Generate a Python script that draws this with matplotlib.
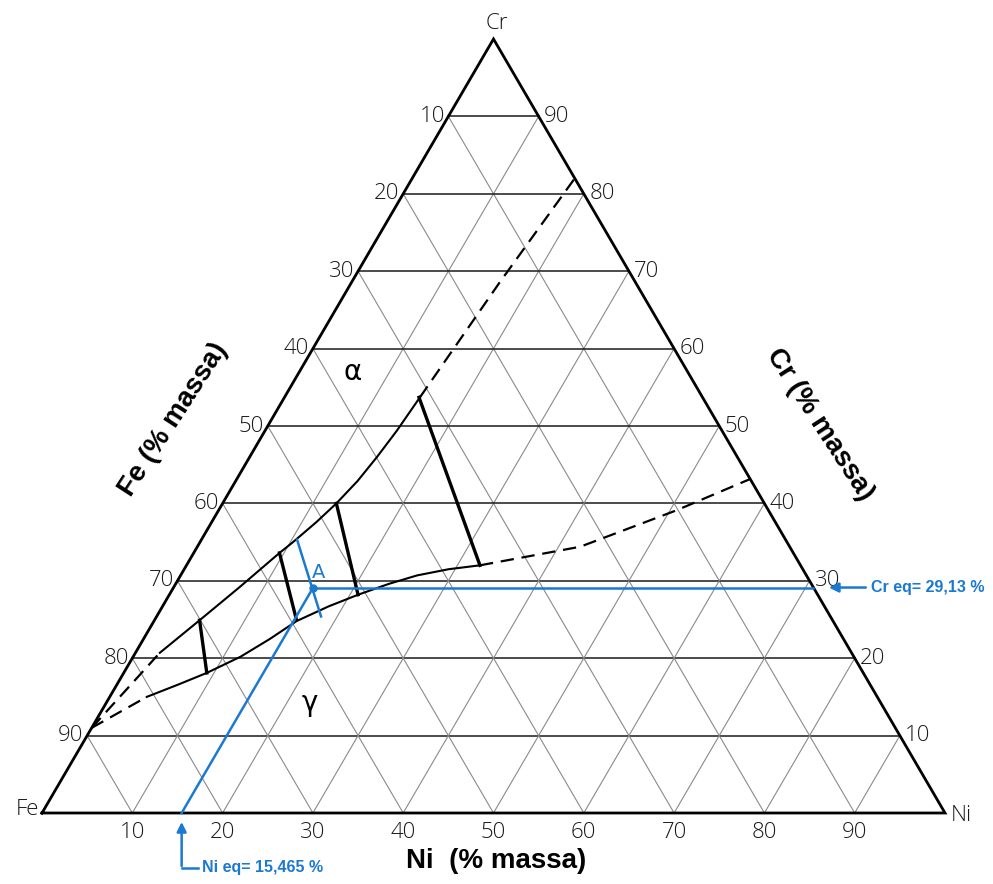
import numpy as np
import matplotlib
matplotlib.use("Agg")
import matplotlib.pyplot as plt

# Ternary Fe-Cr-Ni section; compositions in % (Ni, Cr), Fe = 100 - Ni - Cr
grid_values = [10, 20, 30, 40, 50, 60, 70, 80, 90]

# alpha / (alpha+gamma) boundary
sup_dash1_ni = [0.0, 2.7]
sup_dash1_cr = [11.0, 20.7]
sup_ni = [2.7, 5.0, 7.3, 9.5, 10.3, 11.6, 12.6, 13.5, 14.1, 14.6, 15.0]
sup_cr = [20.7, 24.9, 29.2, 33.6, 35.0, 37.6, 40.0, 42.9, 46.0, 49.4, 53.7]
sup_dash2_ni = [15.0, 16.4, 18.0]
sup_dash2_cr = [53.7, 68.5, 82.0]

# gamma / (alpha+gamma) boundary
inf_dash1_ni = [0.0, 4.1]
inf_dash1_cr = [11.0, 15.0]
inf_ni = [4.1, 6.8, 9.2, 11.9, 14.0, 15.8, 18.4, 20.9, 23.6, 26.2, 29.3, 32.5]
inf_cr = [15.0, 16.6, 18.1, 20.2, 22.5, 24.8, 26.7, 28.2, 29.6, 30.7, 31.5, 32.0]
inf_dash2_ni = [32.5, 42.4, 50.7, 56.85]
inf_dash2_cr = [32.0, 34.4, 39.1, 43.15]

# tie-lines (top point, bottom point)
tie_ni = [(5.0, 9.2), (9.5, 15.6), (12.6, 20.9), (14.9, 32.5)]
tie_cr = [(24.9, 18.1), (33.6, 25.1), (40.0, 28.2), (53.7, 32.0)]

# point A from the equivalents
ni_eq = 15.465
cr_eq = 29.13
tie_a_ni = (10.6, 18.2)
tie_a_cr = (35.3, 25.4)

BLUE = "#1b79d2"


def tern(ni, cr):
    ni = np.asarray(ni, float) / 100
    cr = np.asarray(cr, float) / 100
    return ni + cr / 2, cr


fig = plt.figure(figsize=(9.93, 8.84), dpi=100)
ax = fig.add_axes([0, 0, 1, 1])
ax.set_xlim(-42 / 903, 951 / 903)
ax.set_ylim((813 - 884) / 774, 813 / 774)
ax.axis("off")

# grid
for v in grid_values:
    # constant Cr (horizontal)
    x, y = tern([0, 100 - v], [v, v])
    ax.plot(x, y, color="#1a1a1a", lw=1.1, zorder=1)
    # constant Ni
    x, y = tern([v, v], [0, 100 - v])
    ax.plot(x, y, color="#8a8a8a", lw=0.8, zorder=1)
    # constant Fe
    x, y = tern([100 - v, 0], [0, 100 - v])
    ax.plot(x, y, color="#8a8a8a", lw=0.8, zorder=1)

# triangle
x, y = tern([0, 100, 0, 0], [0, 0, 100, 0])
ax.plot(x, y, color="black", lw=2.0, zorder=3, solid_joinstyle="miter")

# tick labels
tick_font = dict(fontsize=16, family="Open Sans", fontweight="light", color="#1a1a1a")
for v in grid_values:
    x, y = tern(0, v)
    ax.text(x - 0.004, y, str(100 - v), ha="right", va="center", **tick_font)
    x, y = tern(100 - v, v)
    ax.text(x + 0.006, y, str(v), ha="left", va="center", **tick_font)
    x, y = tern(v, 0)
    ax.text(x, y - 0.011, str(v), ha="center", va="top", **tick_font)

vfont = dict(fontsize=16, family="Open Sans", fontweight="light", color="#1a1a1a")
x, y = tern(0, 0)
ax.text(x - 0.003, y + 0.004, "Fe", ha="right", va="center", **vfont)
x, y = tern(100, 0)
ax.text(x + 0.006, y - 0.003, "Ni", ha="left", va="center", **vfont)
x, y = tern(0, 100)
ax.text(x + 0.004, y + 0.006, "Cr", ha="center", va="bottom", **vfont)

# axis titles
title_font = dict(fontsize=20, family="Liberation Sans", fontweight="bold")
ax.text(0.503, (813 - 861) / 774, "Ni  (% massa)", ha="center", va="center", **title_font)
ax.text((173 - 42) / 903, (813 - 420) / 774, "Fe (% massa)", ha="center", va="center",
        rotation=57, **title_font)
ax.text((820 - 42) / 903, (813 - 425) / 774, "Cr (% massa)", ha="center", va="center",
        rotation=-57, **title_font)

# phase boundaries
dash = (0, (6, 3.5))
for ni, cr in [(sup_dash1_ni, sup_dash1_cr), (sup_dash2_ni, sup_dash2_cr),
               (inf_dash1_ni, inf_dash1_cr), (inf_dash2_ni, inf_dash2_cr)]:
    x, y = tern(ni, cr)
    ax.plot(x, y, color="black", lw=1.6, linestyle=dash, zorder=4)
for ni, cr in [(sup_ni, sup_cr), (inf_ni, inf_cr)]:
    x, y = tern(ni, cr)
    ax.plot(x, y, color="black", lw=1.5, zorder=4, solid_joinstyle="round")
for ni, cr in zip(tie_ni, tie_cr):
    x, y = tern(ni, cr)
    ax.plot(x, y, color="black", lw=2.4, zorder=4)

# phase labels
ax.text((353 - 42) / 903, (813 - 372) / 774, "α", fontsize=20, ha="center", va="center")
ax.text((310 - 42) / 903, (813 - 703) / 774, "γ", fontsize=20, ha="center", va="center")

# equivalents and point A
x, y = tern(tie_a_ni, tie_a_cr)
ax.plot(x, y, color=BLUE, lw=1.8, zorder=5)
x, y = tern([ni_eq, ni_eq], [0, cr_eq])
ax.plot(x, y, color=BLUE, lw=1.8, zorder=5)
x, y = tern([ni_eq, 100 - cr_eq], [cr_eq, cr_eq])
ax.plot(x, y, color=BLUE, lw=1.8, zorder=5)
xa, ya = tern(ni_eq, cr_eq)
ax.plot(xa, ya, "o", color=BLUE, ms=5, zorder=6)
ax.annotate("A", (xa, ya), xytext=(4, 11), textcoords="offset points",
            ha="center", va="center", color=BLUE, fontsize=14)

# Cr eq callout on the right edge
xe, ye = tern(100 - cr_eq, cr_eq)
ax.annotate("", xy=(xe + 0.014, ye), xytext=(xe + 0.061, ye),
            arrowprops=dict(arrowstyle="-|>", color=BLUE, lw=1.8, mutation_scale=14))
ax.text(xe + 0.064, ye, "Cr eq= 29,13 %", ha="left", va="center", color=BLUE,
        fontsize=11.5, fontweight="bold", family="Liberation Sans")

# Ni eq callout under the base
xb, yb = tern(ni_eq, 0)
ax.plot([xb, xb + 0.018], [-0.071, -0.071], color=BLUE, lw=1.8)
ax.annotate("", xy=(xb, -0.008), xytext=(xb, -0.072),
            arrowprops=dict(arrowstyle="-|>", color=BLUE, lw=1.8, mutation_scale=14))
ax.text(xb + 0.022, -0.071, "Ni eq= 15,465 %", ha="left", va="center", color=BLUE,
        fontsize=11.5, fontweight="bold", family="Liberation Sans")

fig.savefig("out.png", dpi=100)
